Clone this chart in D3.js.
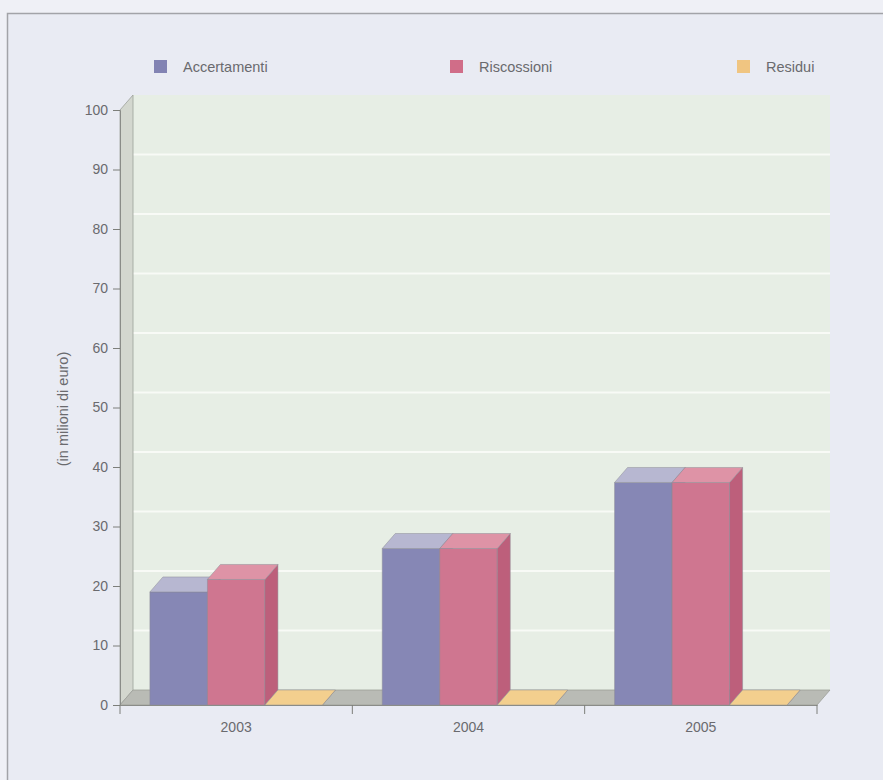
<!DOCTYPE html>
<html>
<head>
<meta charset="utf-8">
<script src="https://cdn.jsdelivr.net/npm/d3@7"></script>
<style>
  html, body { margin: 0; padding: 0; background: #eff0f6; }
  svg { display: block; }
  text { font-family: "Liberation Sans", Arial, sans-serif; fill: #6a6a6e; }
</style>
</head>
<body>
<svg id="chart" width="883" height="780"></svg>
<script>
// Data (millions of euro)
const years = ["2003", "2004", "2005"];
const seriesNames = ["Accertamenti", "Riscossioni", "Residui"];
const accertamenti = [19.0, 26.3, 37.4];
const riscossioni = [21.1, 26.3, 37.4];
const residui = [0, 0, 0];
const yTicks = [0, 10, 20, 30, 40, 50, 60, 70, 80, 90, 100];
const yTitle = "(in milioni di euro)";

const seriesValues = [accertamenti, riscossioni, residui];

// Face colours per series: front, top, side
const palette = [
  { front: "#8687b5", top: "#b7b7d1", side: "#7374a3", legend: "#8283b3" },
  { front: "#cf7690", top: "#de93a6", side: "#bd5f7b", legend: "#d06d88" },
  { front: "#f2cd8c", top: "#f3cf8e", side: "#e2b774", legend: "#f0c581" }
];

const svg = d3.select("#chart");

// Outer frame
svg.append("rect")
  .attr("x", 7.5).attr("y", 13.5)
  .attr("width", 900).attr("height", 800)
  .attr("fill", "#e9ebf3")
  .attr("stroke", "#a2a3a8").attr("stroke-width", 1.5);

// Plot geometry
const x0 = 120, x1 = 817, yBase = 705, yTop = 110;
const dx = 13, dy = -15; // depth offset of the 3D walls

const y = d3.scaleLinear().domain([0, 100]).range([yBase, yTop]);
const xCat = d3.scaleBand().domain(years).range([x0, x1]).padding(0);
const xSer = d3.scaleBand().domain(seriesNames).range([0, xCat.bandwidth()])
  .paddingInner(0).paddingOuter(0.52);

const pts = arr => arr.map(p => p.join(",")).join(" ");

// Back wall
const g = svg.append("g");
g.append("polygon")
  .attr("points", pts([[x0 + dx, y(100) + dy], [x1 + dx, y(100) + dy], [x1 + dx, yBase + dy], [x0 + dx, yBase + dy]]))
  .attr("fill", "#e7eee5");

// Gridlines on the back wall
g.selectAll("line.grid")
  .data(yTicks.filter(t => t > 0 && t < 100))
  .join("line")
  .attr("class", "grid")
  .attr("x1", x0 + dx).attr("x2", x1 + dx)
  .attr("y1", d => y(d) + dy).attr("y2", d => y(d) + dy)
  .attr("stroke", "#f8faf6").attr("stroke-width", 2);

// Left wall
g.append("polygon")
  .attr("points", pts([[x0, y(100)], [x0 + dx, y(100) + dy], [x0 + dx, yBase + dy], [x0, yBase]]))
  .attr("fill", "#d3d7cf").attr("stroke", "#9da19a").attr("stroke-width", 0.8);

// Floor
g.append("polygon")
  .attr("points", pts([[x0, yBase], [x1, yBase], [x1 + dx, yBase + dy], [x0 + dx, yBase + dy]]))
  .attr("fill", "#b9bbb5").attr("stroke", "#9c9e98").attr("stroke-width", 0.8);

// 3D bars
const bars = [];
years.forEach((yr, i) => {
  seriesNames.forEach((s, j) => {
    bars.push({ year: yr, series: s, j: j, value: seriesValues[j][i] });
  });
});

const barG = g.selectAll("g.bar").data(bars).join("g").attr("class", "bar");
barG.each(function(d) {
  const el = d3.select(this);
  const c = palette[d.j];
  const xl = xCat(d.year) + xSer(d.series);
  const xr = xl + xSer.bandwidth();
  const yt = y(d.value);
  const edge = "#8c8c96";
  // front face
  el.append("polygon")
    .attr("points", pts([[xl, yt], [xr, yt], [xr, yBase], [xl, yBase]]))
    .attr("fill", c.front).attr("stroke", edge).attr("stroke-width", 0.5);
  // side face
  el.append("polygon")
    .attr("points", pts([[xr, yt], [xr + dx, yt + dy], [xr + dx, yBase + dy], [xr, yBase]]))
    .attr("fill", c.side).attr("stroke", edge).attr("stroke-width", 0.5);
  // top face
  el.append("polygon")
    .attr("points", pts([[xl, yt], [xl + dx, yt + dy], [xr + dx, yt + dy], [xr, yt]]))
    .attr("fill", c.top).attr("stroke", edge).attr("stroke-width", 0.5);
});

// Y axis
const yAxis = d3.axisLeft(y).tickValues(yTicks).tickSize(7).tickPadding(5);
const yAx = svg.append("g").attr("transform", `translate(${x0},0)`).call(yAxis);
yAx.select(".domain").attr("stroke", "#8a8c88");
yAx.selectAll(".tick line").attr("stroke", "#7c7e7a");
yAx.selectAll(".tick text")
  .style("font-family", "'Liberation Sans', Arial, sans-serif")
  .style("font-size", "14px").attr("fill", "#6a6a6e");

// X axis
const xAxis = d3.axisBottom(xCat).tickSize(0).tickPadding(17);
const xAx = svg.append("g").attr("transform", `translate(0,${yBase})`).call(xAxis);
xAx.select(".domain").attr("stroke", "#8a8c88");
xAx.selectAll(".tick text")
  .style("font-family", "'Liberation Sans', Arial, sans-serif")
  .style("font-size", "14px").attr("fill", "#6a6a6e");

// Category separators below the floor
const seps = [x0, ...years.map(yr => xCat(yr) + xCat.bandwidth())];
svg.selectAll("line.sep").data(seps).join("line")
  .attr("class", "sep")
  .attr("x1", d => d).attr("x2", d => d)
  .attr("y1", yBase).attr("y2", yBase + 9)
  .attr("stroke", "#7c7e7a");

// Y axis title
svg.append("text")
  .attr("transform", "translate(68,409) rotate(-90)")
  .attr("text-anchor", "middle")
  .style("font-size", "14.5px")
  .text(yTitle);

// Legend
const legendX = [154, 450, 737];
const lg = svg.selectAll("g.legend").data(seriesNames).join("g")
  .attr("class", "legend")
  .attr("transform", (d, i) => `translate(${legendX[i]},60)`);
lg.append("rect")
  .attr("width", 13).attr("height", 13)
  .attr("fill", (d, i) => palette[i].legend);
lg.append("text")
  .attr("x", 29).attr("y", 11.5)
  .style("font-size", "14.5px")
  .attr("fill", "#707075")
  .text(d => d);
</script>
</body>
</html>
